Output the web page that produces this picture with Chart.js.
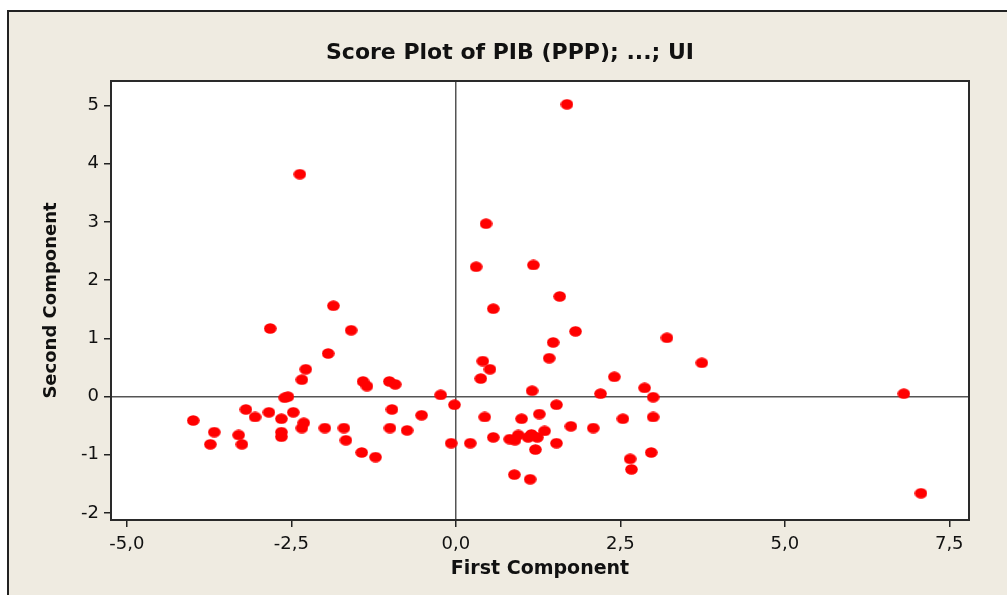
<!DOCTYPE html>
<html>
<head>
<meta charset="utf-8">
<title>Score Plot</title>
<script src="https://cdn.jsdelivr.net/npm/chart.js@4.4.0/dist/chart.umd.min.js"></script>
<style>
  html, body { margin: 0; padding: 0; background: #fff; }
  #wrap { width: 1007px; height: 595px; }
</style>
</head>
<body>
<div id="wrap"><canvas id="scorePlot" width="1007" height="595"></canvas></div>
<script>
// Scores
const firstComponent = [
  -2.37, -1.86, -2.82, -1.59, -1.94, -2.28, -2.34, -1.41, -1.35, -1.01,
  -0.92, -0.23, -2.60, -2.55, -0.02, -3.99, -3.67, -3.73, -3.30, -3.25,
  -3.19, -3.05, -2.84, -2.65, -2.65, -2.65, -2.47, -2.31, -2.34, -1.99,
  -1.70, -1.67, -1.43, -1.22, -0.97, -1.00, -0.74, -0.52, -0.07, 0.22,
  0.44, 0.57, 1.00, 1.27, 1.53, 1.75, 2.09, 2.54, 3.00, 0.82,
  0.90, 0.95, 1.10, 1.15, 1.24, 1.35, 1.21, 1.53, 0.89, 1.13,
  2.65, 2.67, 2.97, 6.81, 7.07, 1.69, 0.46, 0.31, 1.18, 1.58,
  0.57, 1.82, 1.48, 1.42, 3.21, 3.74, 0.41, 0.52, 0.38, 1.16,
  2.41, 2.87, 3.00, 2.20
];
const secondComponent = [
  3.82, 1.56, 1.17, 1.14, 0.74, 0.47, 0.29, 0.26, 0.18, 0.26,
  0.21, 0.03, -0.02, 0.00, -0.14, -0.41, -0.61, -0.82, -0.66, -0.82,
  -0.22, -0.35, -0.27, -0.38, -0.61, -0.69, -0.27, -0.45, -0.54, -0.54,
  -0.54, -0.75, -0.96, -1.04, -0.22, -0.54, -0.58, -0.32, -0.80, -0.80,
  -0.35, -0.70, -0.38, -0.30, -0.14, -0.51, -0.54, -0.38, -0.35, -0.73,
  -0.75, -0.66, -0.70, -0.65, -0.70, -0.59, -0.91, -0.80, -1.34, -1.42,
  -1.07, -1.25, -0.96, 0.05, -1.66, 5.02, 2.97, 2.23, 2.26, 1.72,
  1.51, 1.12, 0.93, 0.66, 1.01, 0.58, 0.61, 0.47, 0.31, 0.10,
  0.34, 0.15, -0.01, 0.05
];
const xTicks = [-5, -2.5, 0, 2.5, 5, 7.5];
const yTicks = [-2, -1, 0, 1, 2, 3, 4, 5];

const fontFamily = '"DejaVu Sans", Verdana, sans-serif';
const titleText = 'Score Plot of PIB (PPP); ...; UI';

// Slightly flattened red dot, like the original symbols
const dot = document.createElement('canvas');
dot.width = 13;
dot.height = 11;
const dctx = dot.getContext('2d');
dctx.fillStyle = '#ff0000';
dctx.beginPath();
dctx.ellipse(6.5, 5.5, 6.3, 5.3, 0, 0, Math.PI * 2);
dctx.fill();

// Beige frame, white plot area, box border and title
const framePlugin = {
  id: 'frame',
  beforeDraw(chart) {
    const ctx = chart.ctx;
    const { width, height } = chart;
    const { left, top, right, bottom } = chart.chartArea;
    ctx.save();
    ctx.fillStyle = '#ffffff';
    ctx.fillRect(0, 0, width, height);
    ctx.fillStyle = '#efebe1';
    ctx.fillRect(8, 11, width, height);
    ctx.strokeStyle = '#222';
    ctx.lineWidth = 2;
    ctx.beginPath();
    ctx.moveTo(8, height);
    ctx.lineTo(8, 11);
    ctx.lineTo(width, 11);
    ctx.stroke();
    ctx.fillStyle = '#ffffff';
    ctx.fillRect(left, top, right - left, bottom - top);
    ctx.restore();
  },
  afterDraw(chart) {
    const ctx = chart.ctx;
    const { left, top, right, bottom } = chart.chartArea;
    ctx.save();
    ctx.strokeStyle = '#2a2a2a';
    ctx.lineWidth = 2;
    ctx.strokeRect(left, top, right - left, bottom - top);
    ctx.fillStyle = '#111';
    ctx.font = 'bold 22px ' + fontFamily;
    ctx.textAlign = 'center';
    ctx.textBaseline = 'middle';
    ctx.fillText(titleText, 510, 53);
    ctx.restore();
  }
};

const zeroLine = ctx => (ctx.tick && ctx.tick.value === 0) ? '#555' : 'rgba(0,0,0,0)';

new Chart(document.getElementById('scorePlot'), {
  type: 'scatter',
  data: {
    datasets: [{
      data: firstComponent.map((x, i) => ({ x: x, y: secondComponent[i] })),
      pointStyle: dot,
      pointRadius: 6,
      backgroundColor: '#ff0000',
      borderWidth: 0
    }]
  },
  options: {
    responsive: false,
    animation: false,
    devicePixelRatio: 1,
    layout: { padding: { left: 0, top: 81, right: 38, bottom: 0 } },
    plugins: {
      legend: { display: false },
      tooltip: { enabled: false },
      title: { display: false }
    },
    scales: {
      x: {
        type: 'linear',
        min: -5.24,
        max: 7.8,
        afterBuildTicks: s => { s.ticks = xTicks.map(v => ({ value: v })); },
        afterFit: s => { s.height = 75; },
        grid: { color: zeroLine, lineWidth: 1.5, tickColor: '#222', tickLength: 7, tickWidth: 1.5 },
        border: { display: true, color: '#222', width: 2 },
        ticks: {
          color: '#111',
          font: { family: fontFamily, size: 18 },
          padding: 7,
          maxRotation: 0,
          autoSkip: false,
          callback: v => v.toFixed(1).replace('.', ',')
        },
        title: {
          display: true,
          text: 'First Component',
          color: '#111',
          font: { family: fontFamily, size: 19, weight: 'bold' },
          padding: { top: 0, bottom: 15 }
        }
      },
      y: {
        type: 'linear',
        min: -2.12,
        max: 5.42,
        afterBuildTicks: s => { s.ticks = yTicks.map(v => ({ value: v })); },
        afterFit: s => { s.width = 111; },
        grid: { color: zeroLine, lineWidth: 1.5, tickColor: '#222', tickLength: 7, tickWidth: 1.5 },
        border: { display: true, color: '#222', width: 2 },
        ticks: {
          color: '#111',
          font: { family: fontFamily, size: 18 },
          padding: 5,
          autoSkip: false,
          callback: v => String(v)
        },
        title: {
          display: true,
          text: 'Second Component',
          color: '#111',
          font: { family: fontFamily, size: 18, weight: 'bold' },
          padding: { top: 41, bottom: 0 }
        }
      }
    }
  },
  plugins: [framePlugin]
});
</script>
</body>
</html>
